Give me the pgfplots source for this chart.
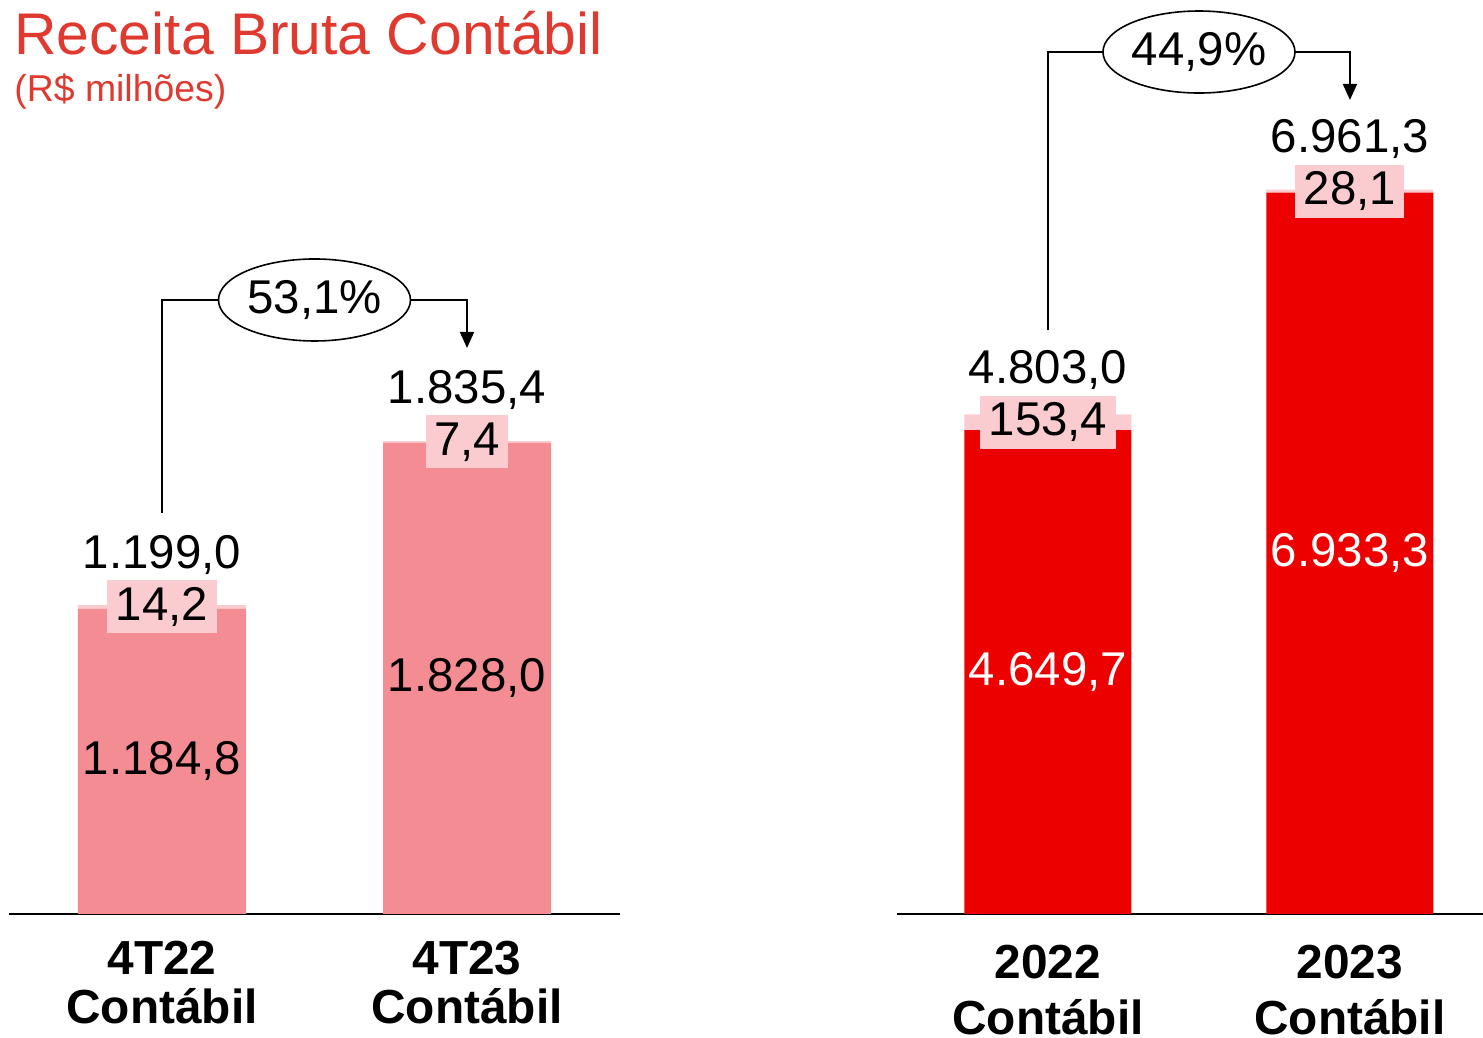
\documentclass[border=0pt]{standalone}
\usepackage{pgfplots}
\pgfplotsset{compat=1.18}
\usepackage{fontspec}
\setmainfont{Liberation Sans}
\usetikzlibrary{arrows.meta,shapes.geometric}
\definecolor{pinkbar}{HTML}{F48C94}
\definecolor{lightpink}{HTML}{FACCD0}
\definecolor{redbar}{HTML}{EC0000}
\definecolor{titlered}{HTML}{E03A30}
\newcommand\vf{\fontsize{23.7}{27}\selectfont}
\tikzset{
  boxlab/.style={fill=lightpink, font=\vf, inner xsep=4.2pt, inner ysep=0pt, minimum height=26.5pt},
  brack/.style={line width=0.9pt, -{Triangle[length=8pt,width=7pt]}},
  ell/.style={draw, ellipse, fill=white, line width=0.8pt, minimum width=96pt, minimum height=41pt, inner sep=0pt, font=\vf},
}
\pgfplotsset{
  panel/.style={
    scale only axis, clip=false,
    height=450pt, ymin=0,
    ybar stacked,
    axis x line=bottom, axis y line=none,
    axis line style={-, line width=1pt, black},
    xtick={0,1}, major tick length=0pt, ytick=\empty,
    xticklabel style={align=center, yshift=-10pt},
    anchor=south west,
  },
}
\begin{document}
\begin{tikzpicture}
% ---------------- left panel ----------------
\begin{axis}[panel,
  at={(4.75pt,62pt)}, width=305pt,
  xmin=-0.5, xmax=1.5, ymax=3492.4,
  bar width=84pt,
  xticklabels={{4T22\\Contábil},{4T23\\Contábil}},
  xticklabel style={font=\bfseries\fontsize{23.9}{24.5}\selectfont},
]
\addplot[fill=pinkbar, draw=none] coordinates {(0,1184.8) (1,1828.0)};
\addplot[fill=lightpink, draw=none] coordinates {(0,14.2) (1,7.4)};
\coordinate (Lm1) at (axis cs:0,592.4);
\coordinate (Lm2) at (axis cs:1,914.0);
\coordinate (Ll1) at (axis cs:0,1191.9);
\coordinate (Ll2) at (axis cs:1,1831.7);
\coordinate (Lb1) at (axis cs:0,1556);
\coordinate (Lb2) at (axis cs:1,2382.6);
\coordinate (Lb3) at (axis cs:1,2196.4);
\coordinate (Le) at (axis cs:0.5,2382.6);
\end{axis}
% ---------------- right panel ----------------
\begin{axis}[panel,
  at={(448.5pt,62pt)}, width=292.9pt,
  xmin=-0.5, xmax=1.44, ymax=8650.5,
  bar width=83.5pt,
  xticklabels={{2022\\Contábil},{2023\\Contábil}},
  xticklabel style={font=\bfseries\fontsize{23.9}{28}\selectfont, inner ysep=0pt, yshift=-5.5pt},
]
\addplot[fill=redbar, draw=none] coordinates {(0,4649.7) (1,6933.3)};
\addplot[fill=lightpink, draw=none] coordinates {(0,153.4) (1,28.1)};
\coordinate (Rm1) at (axis cs:0,2324.9);
\coordinate (Rm2) at (axis cs:1,3466.7);
\coordinate (Rl1) at (axis cs:0,4726.4);
\coordinate (Rl2) at (axis cs:1,6947.4);
\coordinate (Rb1) at (axis cs:0,5613);
\coordinate (Rb2) at (axis cs:1,8285);
\coordinate (Rb3) at (axis cs:1,7824);
\coordinate (Re) at (axis cs:0.5,8285);
\end{axis}
% ---------------- labels (left) ----------------
\node[font=\vf] at (Lm1) {1.184,8};
\node[font=\vf] at (Lm2) {1.828,0};
\node[boxlab] at (Ll1) {14,2};
\node[boxlab] at (Ll2) {7,4};
\node[font=\vf, yshift=26pt] at (Ll1) {1.199,0};
\node[font=\vf, yshift=26pt] at (Ll2) {1.835,4};
\draw[brack] (Lb1) |- (Lb2) -- (Lb3);
\node[ell] at (Le) {53,1\%};
% ---------------- labels (right) ----------------
\node[font=\vf, text=white] at (Rm1) {4.649,7};
\node[font=\vf, text=white] at (Rm2) {6.933,3};
\node[boxlab] at (Rl1) {153,4};
\node[boxlab] at (Rl2) {28,1};
\node[font=\vf, yshift=26pt] at (Rl1) {4.803,0};
\node[font=\vf, yshift=26pt] at (Rl2) {6.961,3};
\draw[brack] (Rb1) |- (Rb2) -- (Rb3);
\node[ell] at (Re) {44,9\%};
% ---------------- titles ----------------
\node[anchor=base west, inner sep=0pt, text=titlered, font=\fontsize{29.4}{31}\selectfont] at (7pt,491.5pt) {Receita Bruta Contábil};
\node[anchor=base west, inner sep=0pt, text=titlered, font=\fontsize{18.7}{20}\selectfont] at (7pt,468pt) {(R\$ milhões)};
\pgfresetboundingbox
\path (0,0) rectangle (741.5pt,519pt);
\end{tikzpicture}
\end{document}
